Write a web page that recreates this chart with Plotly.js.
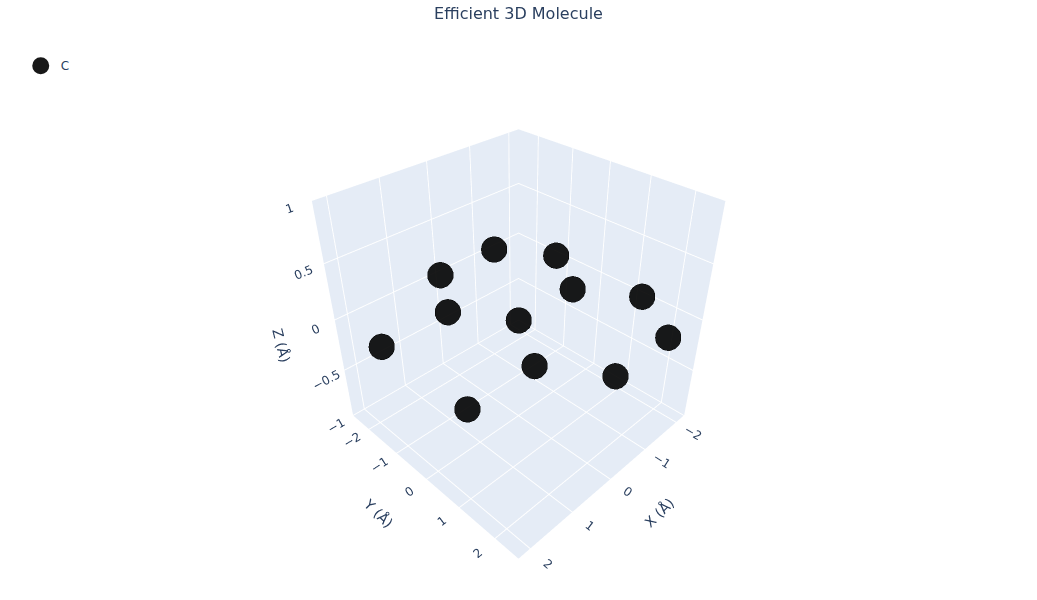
<!DOCTYPE html>
<html><head><meta charset="utf-8"><script src="https://cdn.plot.ly/plotly-3.0.1.min.js"></script>
<style>html,body{margin:0;padding:0;background:#fff}</style></head><body><div id="g" style="width:1037px;height:600px"></div>
<script>
const xs=[2.13,0,-1.42,-2.13,-1.42,-2.13,-1.42,0,0.71,2.13,0.71,0];
const ys=[-1.23,-2.46,-2.46,-1.23,0,1.23,2.46,2.46,1.23,1.23,-1.23,0];
const zs=[0,0,0,0,0,0,0,0,0,0,0,0];
const axis=(t)=>({title:{text:t},backgroundcolor:'#E5ECF6',gridcolor:'#fff',gridwidth:2,linecolor:'#fff',showbackground:true,zerolinecolor:'#fff',ticks:''});
Plotly.newPlot('g',[{type:'scatter3d',mode:'markers',name:'C',x:xs,y:ys,z:zs,marker:{size:15,color:'#000',opacity:0.9,line:{color:'#000',width:2}}}],{
 title:{text:'Efficient 3D Molecule',x:0.5,y:0.977,yanchor:'middle',font:{size:16}},
 showlegend:true,legend:{x:0.02,y:0.98,font:{size:12}},
 font:{color:'#2a3f5f',family:'"DejaVu Sans", Verdana, sans-serif'},
 width:1037,height:600,paper_bgcolor:'#fff',
 margin:{l:0,r:0,t:40,b:0},
 scene:{aspectmode:'cube',camera:{eye:{x:1.5,y:1.5,z:1.5}},
  xaxis:axis('X (Å)'),
  yaxis:axis('Y (Å)'),
  zaxis:axis('Z (Å)')}
},{displayModeBar:false});
</script></body></html>
